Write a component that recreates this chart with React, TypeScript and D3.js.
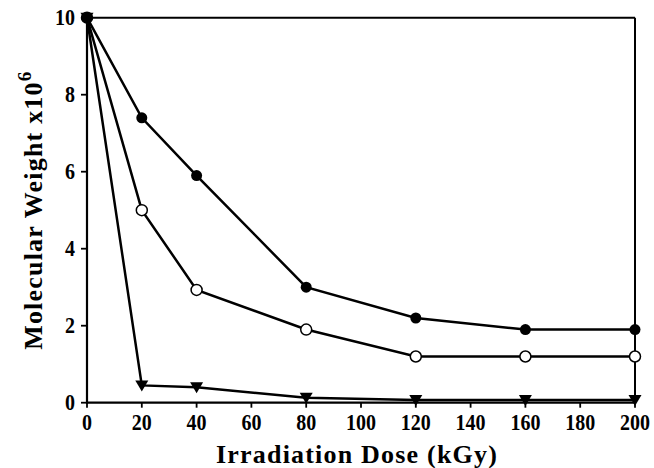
import React from "react";
import * as d3 from "d3";

const doses = [0, 20, 40, 80, 120, 160, 200];
const filledCircle = [10, 7.4, 5.9, 3.0, 2.2, 1.9, 1.9];
const openCircle = [10, 5.0, 2.93, 1.9, 1.2, 1.2, 1.2];
const triangle = [10, 0.45, 0.4, 0.13, 0.07, 0.07, 0.07];
const xTicks = [0, 20, 40, 60, 80, 100, 120, 140, 160, 180, 200];
const yTicks = [0, 2, 4, 6, 8, 10];

const W = 654;
const H = 468;
const left = 87;
const right = 635;
const top = 17.7;
const bottom = 402.7;

export default function App() {
  const x = d3.scaleLinear().domain([0, 200]).range([left, right]);
  const y = d3.scaleLinear().domain([0, 10]).range([bottom, top]);
  const line = d3
    .line<number>()
    .x((_, i) => x(doses[i]))
    .y((v) => y(v));
  const font = "'Liberation Serif', 'Times New Roman', serif";
  const tri = (cx: number, cy: number) =>
    `M${cx - 6.5},${cy - 5} L${cx + 6.5},${cy - 5} L${cx},${cy + 6} Z`;

  return (
    <div style={{ position: "absolute", left: 0, top: 0 }}>
      <svg width={W} height={H} style={{ display: "block", background: "#fff" }}>
        {/* frame */}
        <line x1={left} x2={right} y1={top} y2={top} stroke="#000" strokeWidth={2} />
        <line x1={right} x2={right} y1={top} y2={bottom} stroke="#000" strokeWidth={2} />
        <line x1={left} x2={left} y1={top} y2={bottom + 1} stroke="#000" strokeWidth={2.2} />
        <line x1={left - 1} x2={right + 1} y1={bottom} y2={bottom} stroke="#000" strokeWidth={2.2} />
        {/* y ticks */}
        {yTicks.map((t) => (
          <g key={"y" + t}>
            <line x1={left - 6} x2={left} y1={y(t)} y2={y(t)} stroke="#000" strokeWidth={1.8} />
            <text
              transform={`translate(${left - 12}, ${y(t) + 7.5}) scale(1, 1.12)`}
              textAnchor="end"
              fontFamily={font}
              fontWeight="bold"
              fontSize={20}
            >
              {t}
            </text>
          </g>
        ))}
        {/* x ticks */}
        {xTicks.map((t) => (
          <g key={"x" + t}>
            <line x1={x(t)} x2={x(t)} y1={bottom} y2={bottom + 5} stroke="#000" strokeWidth={1.8} />
            <text
              transform={`translate(${x(t)}, 430) scale(1, 1.12)`}
              textAnchor="middle"
              fontFamily={font}
              fontWeight="bold"
              fontSize={20}
            >
              {t}
            </text>
          </g>
        ))}
        {/* series lines */}
        {[filledCircle, openCircle, triangle].map((s, k) => (
          <path key={"l" + k} d={line(s) || ""} fill="none" stroke="#000" strokeWidth={2.5} />
        ))}
        {/* markers */}
        {triangle.map((v, i) => (
          <path key={"t" + i} d={tri(x(doses[i]), y(v))} fill="#000" />
        ))}
        {openCircle.map((v, i) => (
          <circle key={"o" + i} cx={x(doses[i])} cy={y(v)} r={5.5} fill="#fff" stroke="#000" strokeWidth={1.5} />
        ))}
        {filledCircle.map((v, i) => (
          <circle key={"f" + i} cx={x(doses[i])} cy={y(v)} r={5.5} fill="#000" />
        ))}
        {/* axis labels */}
        <text
          x={(left + right) / 2 - 4}
          y={463}
          textAnchor="middle"
          fontFamily={font}
          fontWeight="bold"
          fontSize={26}
          letterSpacing={1.2}
        >
          Irradiation Dose (kGy)
        </text>
        <text
          transform={`translate(42, ${(top + bottom) / 2}) rotate(-90)`}
          textAnchor="middle"
          fontFamily={font}
          fontWeight="bold"
          fontSize={26}
          letterSpacing={1.2}
        >
          Molecular Weight x10
          <tspan dy={-11} fontSize={19}>6</tspan>
        </text>
      </svg>
    </div>
  );
}
